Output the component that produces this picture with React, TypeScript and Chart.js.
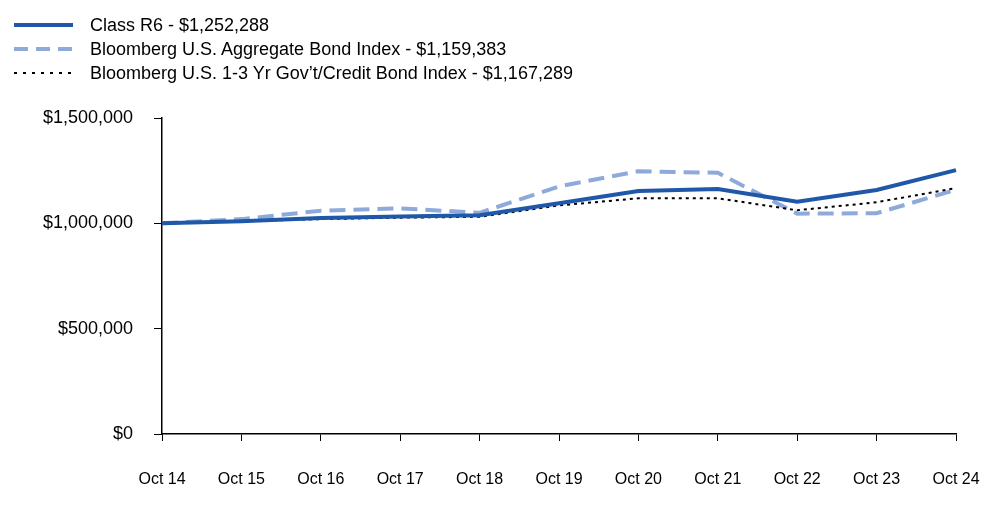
import React, { useEffect, useRef } from "react";
import { Chart, registerables } from "chart.js";

Chart.register(...registerables);

const categories = ["Oct 14", "Oct 15", "Oct 16", "Oct 17", "Oct 18", "Oct 19", "Oct 20", "Oct 21", "Oct 22", "Oct 23", "Oct 24"];
const classR6 = [1000000, 1010000, 1025000, 1033000, 1038000, 1095000, 1153000, 1163000, 1102000, 1158000, 1252288];
const aggregate = [1000000, 1020000, 1060000, 1071000, 1050000, 1175000, 1247000, 1240000, 1046000, 1048000, 1159383];
const govCredit = [1000000, 1010000, 1020000, 1027000, 1031000, 1085000, 1119000, 1119000, 1062000, 1100000, 1167289];
const legendLabels = [
  "Class R6 - $1,252,288",
  "Bloomberg U.S. Aggregate Bond Index - $1,159,383",
  "Bloomberg U.S. 1-3 Yr Gov\u2019t/Credit Bond Index - $1,167,289",
];
const yTicks = [0, 500000, 1000000, 1500000];

const DARK = "#1f58a8";
const LIGHT = "#8eaadb";
const FONT = "Arial, 'Liberation Sans', sans-serif";

export default function App() {
  const ref = useRef<HTMLCanvasElement | null>(null);

  useEffect(() => {
    document.body.style.margin = "0";
    const ctx = ref.current!;
    const chart = new Chart(ctx, {
      type: "line",
      data: {
        labels: categories,
        datasets: [
          { label: legendLabels[0], data: classR6, borderColor: DARK, borderWidth: 4, pointRadius: 0, tension: 0, order: 0 },
          { label: legendLabels[1], data: aggregate, borderColor: LIGHT, borderWidth: 4, borderDash: [16, 8], pointRadius: 0, tension: 0, order: 2 },
          { label: legendLabels[2], data: govCredit, borderColor: "#000000", borderWidth: 2, borderDash: [3, 4], pointRadius: 0, tension: 0, order: 1 },
        ],
      },
      options: {
        animation: false,
        responsive: false,
        maintainAspectRatio: false,
        layout: { padding: { left: 0, right: 44, top: 118, bottom: 0 } },
        plugins: { legend: { display: false }, tooltip: { enabled: false } },
        scales: {
          x: {
            offset: false,
            grid: { drawOnChartArea: false, drawTicks: true, tickLength: 7, color: "#000", lineWidth: 1 },
            border: { color: "#000", width: 1.5 },
            ticks: { color: "#000", font: { family: FONT, size: 16 }, padding: 29, maxRotation: 0, autoSkip: false },
            afterFit: (s: any) => { s.height = 89; s.paddingRight = 0; s.paddingLeft = 0; },
          },
          y: {
            min: 0,
            max: 1500000,
            afterBuildTicks: (s: any) => { s.ticks = yTicks.map((v) => ({ value: v })); },
            grid: { drawOnChartArea: false, drawTicks: true, tickLength: 8, color: "#000", lineWidth: 1 },
            border: { color: "#000", width: 1.5 },
            ticks: {
              color: "#000",
              font: { family: FONT, size: 18 },
              padding: 21,
              callback: (v: any) => "$" + Number(v).toLocaleString("en-US"),
            },
            afterFit: (s: any) => { s.width = 162; s.paddingTop = 0; s.paddingBottom = 0; },
          },
        },
      },
    });
    return () => chart.destroy();
  }, []);

  const samples = [
    <line key="a" x1="0" y1="5" x2="59" y2="5" stroke={DARK} strokeWidth="4" />,
    <line key="b" x1="0" y1="5" x2="59" y2="5" stroke={LIGHT} strokeWidth="4" strokeDasharray="14 8" />,
    <line key="c" x1="0" y1="5" x2="59" y2="5" stroke="#000" strokeWidth="2" strokeDasharray="3 6" />,
  ];

  return (
    <div style={{ position: "absolute", left: 0, top: 0, width: 1000, height: 523 }}>
      <canvas ref={ref} width={1000} height={523} style={{ position: "absolute", left: 0, top: 0 }} />
      {legendLabels.map((t, i) => (
        <div key={t} style={{ position: "absolute", left: 14, top: 13 + i * 24, height: 24, display: "flex", alignItems: "center", fontFamily: FONT, fontSize: 18, color: "#000", whiteSpace: "nowrap" }}>
          <svg width="59" height="10" style={{ marginRight: 17 }}>{samples[i]}</svg>
          <span>{t}</span>
        </div>
      ))}
    </div>
  );
}
